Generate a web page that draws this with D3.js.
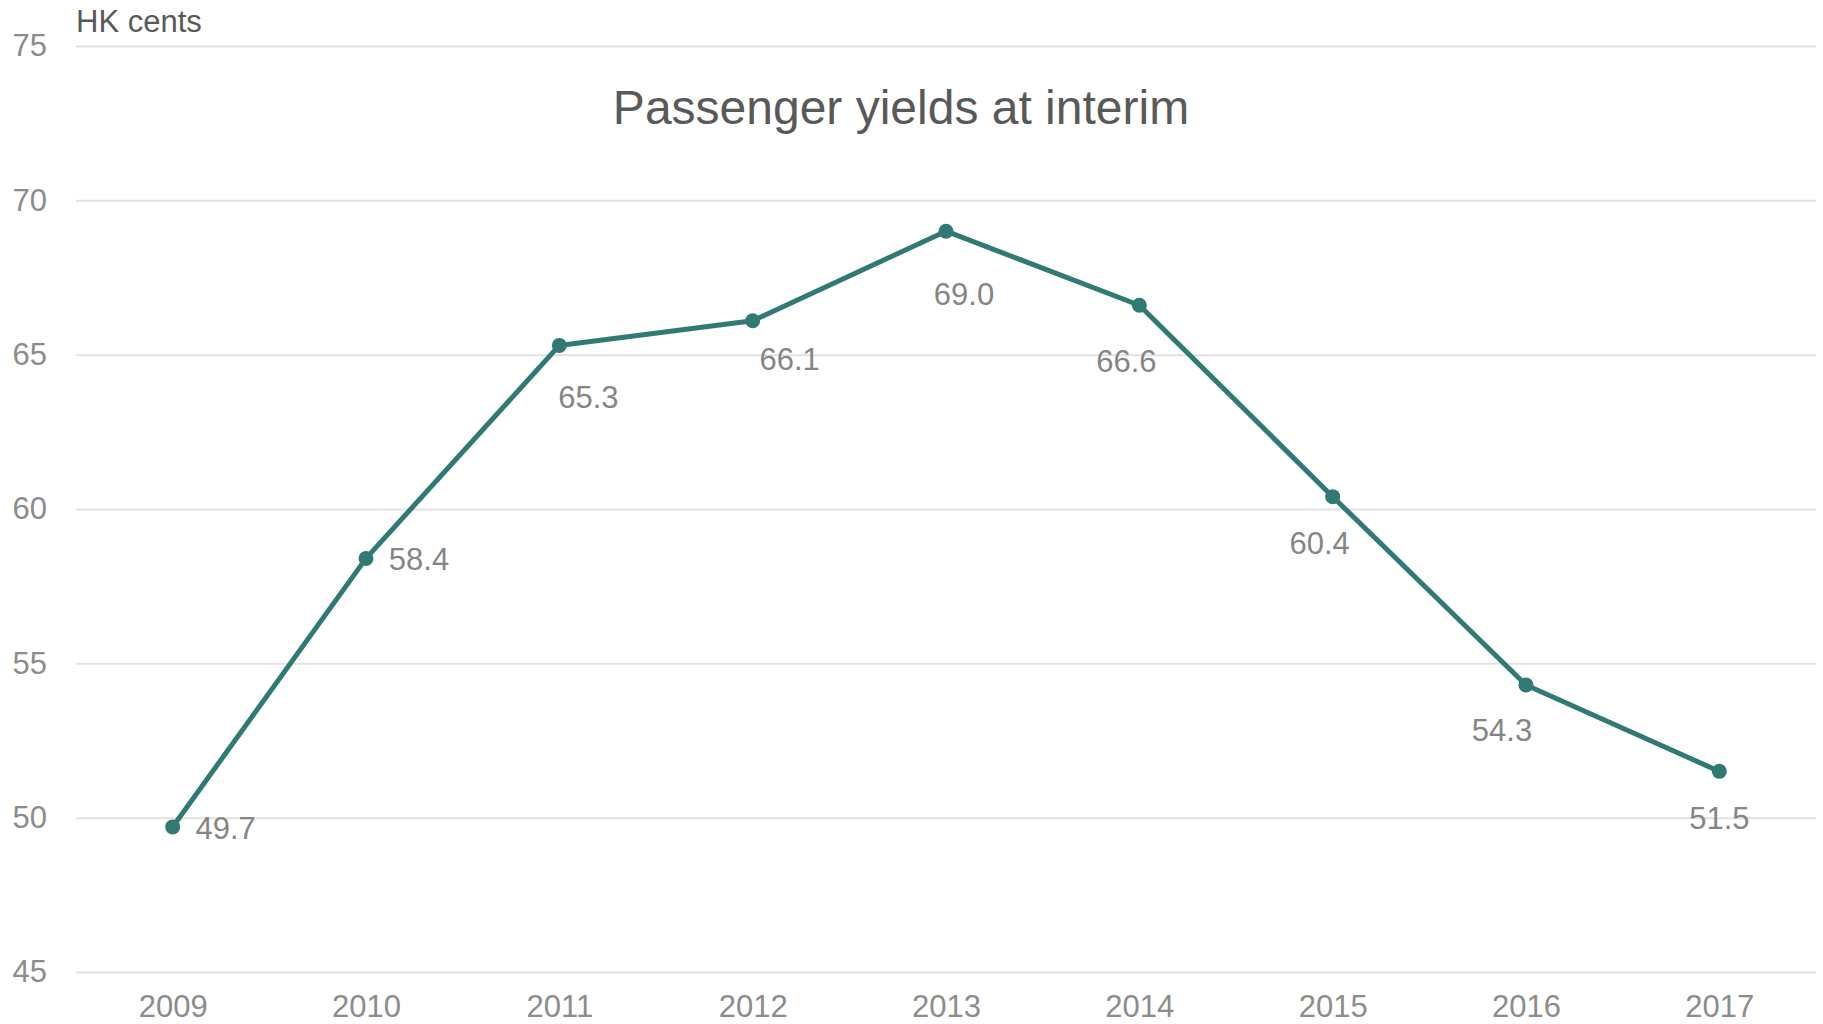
<!DOCTYPE html>
<html>
<head>
<meta charset="utf-8">
<script src="https://cdn.jsdelivr.net/npm/d3@7"></script>
<style>
    body { margin: 0; background: #ffffff; }
    svg { display: block; font-family: "Liberation Sans", Arial, sans-serif; }
</style>
</head>
<body>
<div id="chart"></div>
<script>
// chart data
const years = ["2009", "2010", "2011", "2012", "2013", "2014", "2015", "2016", "2017"];
const yields = [49.7, 58.4, 65.3, 66.1, 69.0, 66.6, 60.4, 54.3, 51.5];
const yTicks = [45, 50, 55, 60, 65, 70, 75];
const chartTitle = "Passenger yields at interim";
const unitLabel = "HK cents";

// where each value label sits relative to its point (centre of text)
const labelOffsets = [[53, 1], [53, 1], [29, 52], [37, 38], [18, 63], [-13, 56], [-13, 46], [-24, 45], [0, 47]];

const width = 1823, height = 1024;
const plotLeft = 76, plotRight = 1816, plotTop = 46, plotBottom = 972;
const lineColor = "#317a74";
const tickColor = "#8c8c8c";

let svg = d3.select("#chart").append("svg")
    .attr("width", width)
    .attr("height", height);

let x = d3.scalePoint().domain(years).range([plotLeft, plotRight]).padding(0.5);
let y = d3.scaleLinear().domain([45, 75]).range([plotBottom, plotTop]);

// y axis with gridlines
let yAxis = svg.append("g")
    .attr("transform", "translate(" + plotLeft + ",0)")
    .call(d3.axisLeft(y).tickValues(yTicks).tickSize(-(plotRight - plotLeft)).tickPadding(29));
yAxis.select(".domain").remove();
yAxis.selectAll(".tick line").attr("stroke", "#e2e2e2").attr("stroke-width", 2);
yAxis.selectAll(".tick text")
    .attr("fill", tickColor)
    .attr("font-size", 31)
    .attr("font-family", "Liberation Sans, Arial, sans-serif");

// x axis
let xAxis = svg.append("g")
    .attr("transform", "translate(0," + plotBottom + ")")
    .call(d3.axisBottom(x).tickSize(0));
xAxis.select(".domain").remove();
xAxis.selectAll(".tick text")
    .attr("y", 45)
    .attr("dy", 0)
    .attr("fill", tickColor)
    .attr("font-size", 31)
    .attr("font-family", "Liberation Sans, Arial, sans-serif");

// title and unit
svg.append("text")
    .attr("x", 901)
    .attr("y", 124)
    .attr("text-anchor", "middle")
    .attr("font-size", 48)
    .attr("fill", "#595959")
    .text(chartTitle);

svg.append("text")
    .attr("x", plotLeft)
    .attr("y", 32)
    .attr("font-size", 31)
    .attr("fill", "#595959")
    .text(unitLabel);

// the line
let points = years.map((yr, i) => ({ year: yr, value: yields[i], off: labelOffsets[i] }));

let line = d3.line()
    .x(d => x(d.year))
    .y(d => y(d.value));

svg.append("path")
    .datum(points)
    .attr("d", line)
    .attr("fill", "none")
    .attr("stroke", lineColor)
    .attr("stroke-width", 5)
    .attr("stroke-linejoin", "round");

svg.selectAll("circle.pt")
    .data(points)
    .join("circle")
    .attr("class", "pt")
    .attr("cx", d => x(d.year))
    .attr("cy", d => y(d.value))
    .attr("r", 7.5)
    .attr("fill", lineColor);

// value labels
svg.selectAll("text.val")
    .data(points)
    .join("text")
    .attr("class", "val")
    .attr("x", d => x(d.year) + d.off[0])
    .attr("y", d => y(d.value) + d.off[1] + 11)
    .attr("text-anchor", "middle")
    .attr("font-size", 31)
    .attr("fill", "#858585")
    .text(d => d.value.toFixed(1));
</script>
</body>
</html>
